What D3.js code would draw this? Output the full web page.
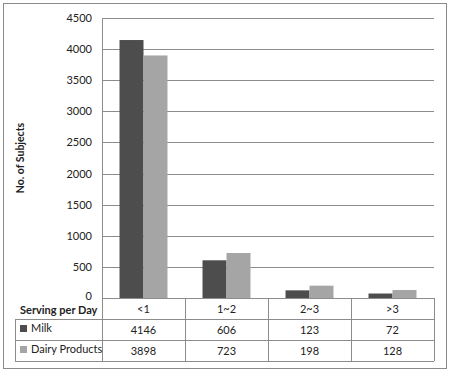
<!DOCTYPE html>
<html><head><meta charset="utf-8">
<script src="https://cdn.jsdelivr.net/npm/d3@7"></script>
<style>body{margin:0;background:#fff}svg{display:block}text{font-family:Lato,"Open Sans",sans-serif;fill:#222}</style>
</head><body><svg id="c" width="452" height="378"></svg>
<script>
const categories = ["<1", "1~2", "2~3", ">3"];
const seriesNames = ["Milk", "Dairy Products"];
const milk = [4146, 606, 123, 72];
const dairy = [3898, 723, 198, 128];
const yTicks = [0, 500, 1000, 1500, 2000, 2500, 3000, 3500, 4000, 4500];
const colors = ["#4d4d4d", "#a5a5a5"];

const svg = d3.select("#c");
const L = 102, R = 434, T = 18, B = 298;
const x = d3.scaleBand().domain(categories).range([L, R]);
const xs = d3.scaleBand().domain(seriesNames).range([0, x.bandwidth()]).paddingOuter(0.73).paddingInner(0);
const y = d3.scaleLinear().domain([0, 4500]).range([B, T]);
const FS = 11;

// outer border
svg.append("rect").attr("x", 3.5).attr("y", 3.5).attr("width", 443).attr("height", 365)
  .attr("fill", "none").attr("stroke", "#8a8a8a").attr("stroke-width", 1);

// gridlines
svg.append("g").selectAll("line").data(yTicks.filter(d => d > 0)).join("line")
  .attr("x1", L).attr("x2", R).attr("y1", d => Math.round(y(d)) + 0.5).attr("y2", d => Math.round(y(d)) + 0.5)
  .attr("stroke", "#8c8c8c");

// y axis labels
const yAxis = d3.axisLeft(y).tickValues(yTicks).tickSize(0).tickPadding(10).tickFormat(d3.format("d"));
const ga = svg.append("g").attr("transform", `translate(${L},0)`).call(yAxis);
ga.select(".domain").remove();
ga.selectAll("text").attr("font-size", FS).style("font-family", 'Lato,sans-serif').attr("fill", "#222");
ga.selectAll(".tick").filter(d => d === 0).select("text").attr("dy", "0.1em");

// bars
const data = [milk, dairy];
seriesNames.forEach((s, si) => {
  svg.append("g").selectAll("rect").data(categories).join("rect")
    .attr("x", c => x(c) + xs(s))
    .attr("width", xs.bandwidth())
    .attr("y", (c, i) => y(data[si][i]))
    .attr("height", (c, i) => B - y(data[si][i]))
    .attr("fill", colors[si]);
});

// y axis line
svg.append("line").attr("x1", L + 0.5).attr("x2", L + 0.5).attr("y1", T).attr("y2", B).attr("stroke", "#8c8c8c");

// y title
svg.append("text").attr("transform", `translate(24,${(T + B) / 2}) rotate(-90)`)
  .attr("text-anchor", "middle").attr("font-size", 10.5).attr("font-weight", "bold").text("No. of Subjects");

// data table
const rowY = [298, 319, 340, 361];
const tableL = 15;
const tbl = svg.append("g");
tbl.append("line").attr("x1", L).attr("x2", R).attr("y1", rowY[0] + 0.5).attr("y2", rowY[0] + 0.5).attr("stroke", "#8c8c8c");
[1, 2, 3].forEach(i => tbl.append("line").attr("x1", tableL).attr("x2", R).attr("y1", rowY[i] + 0.5).attr("y2", rowY[i] + 0.5).attr("stroke", "#8c8c8c"));
const vx = [L].concat(categories.map(c => x(c) + x.bandwidth()));
vx.forEach(v => tbl.append("line").attr("x1", Math.round(v) + 0.5).attr("x2", Math.round(v) + 0.5).attr("y1", rowY[0]).attr("y2", rowY[3]).attr("stroke", "#8c8c8c"));
tbl.append("line").attr("x1", tableL + 0.5).attr("x2", tableL + 0.5).attr("y1", rowY[1]).attr("y2", rowY[3]).attr("stroke", "#8c8c8c");

tbl.append("text").attr("x", 20).attr("y", rowY[0] + 16).attr("font-size", FS).attr("font-weight", "bold").text("Serving per Day");
tbl.selectAll(".cat").data(categories).join("text")
  .attr("x", c => x(c) + x.bandwidth() / 2).attr("y", rowY[0] + 15)
  .attr("text-anchor", "middle").attr("font-size", FS).text(d => d);

seriesNames.forEach((s, si) => {
  const ry = rowY[si + 1];
  tbl.append("rect").attr("x", 20).attr("y", ry + 6).attr("width", 7).attr("height", 7).attr("fill", colors[si]);
  tbl.append("text").attr("x", 31).attr("y", ry + 13).attr("font-size", FS).text(s);
  tbl.append("g").selectAll("text").data(data[si]).join("text")
    .attr("x", (d, i) => x(categories[i]) + x.bandwidth() / 2).attr("y", ry + 15)
    .attr("text-anchor", "middle").attr("font-size", FS).text(d => d);
});
</script></body></html>
